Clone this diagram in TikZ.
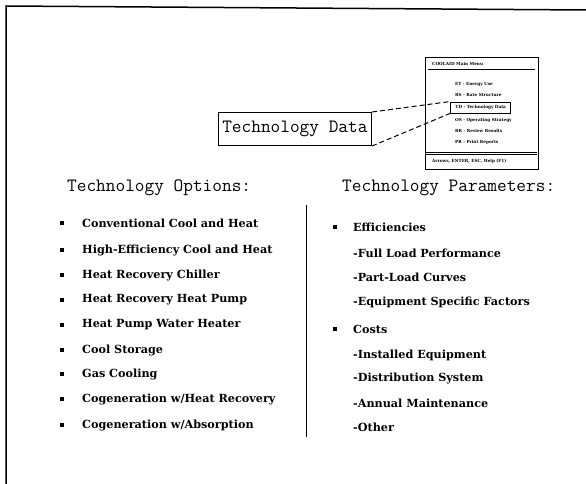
\documentclass[tikz,border=0pt]{standalone}
\usepackage{fontspec}
\newfontfamily\itemfont{DejaVu Serif}
\begin{document}
\begin{tikzpicture}[x=1pt,y=-1pt,
  frame/.style={line width=1.5pt},
  head/.style={font=\fontsize{18.8}{20}\selectfont\ttfamily, anchor=base west, inner sep=0},
  item/.style={font=\itemfont\bfseries\fontsize{11.2}{12}\selectfont, anchor=west, inner sep=0},
  bul/.style={fill, minimum size=4.8pt, inner sep=0},
  menutxt/.style={font=\itemfont\bfseries\fontsize{4.2}{5}\selectfont, anchor=west, inner sep=0},
  conn/.style={line width=1pt, dash pattern=on 5pt off 3pt}]
\useasboundingbox (0,0) rectangle (586,484);
% outer frame
\draw[frame] (6,484) -- (6,6) -- (586,10);
% menu box
\node[draw, line width=1.4pt, minimum width=113pt, minimum height=112pt, anchor=north west, inner sep=0] (menu) at (425,57) {};
\node[menutxt] (mtitle) at (432,64) {COOLAID Main Menu};
\draw[line width=1pt] (428,69.5) -- (535,69.5);
\node[menutxt] (m1) at (455,84) {ET - Energy Use};
\node[menutxt] (m2) at (455,95) {RS - Rate Structure};
\node[menutxt, draw, line width=0.9pt, inner xsep=5pt, minimum height=11pt] (td) at (450,107.5) {TD - Technology Data};
\node[menutxt] (m4) at (455,120) {OS - Operating Strategy};
\node[menutxt] (m5) at (455,131) {RR - Review Results};
\node[menutxt] (m6) at (455,142) {PR - Print Reports};
\draw[line width=0.8pt] (426,152) -- (537,152);
\draw[line width=0.6pt] (426,154.5) -- (537,154.5);
\node[menutxt] (mfoot) at (432,161) {Arrows, ENTER, ESC, Help (F1)};
% title box
\node[draw, line width=1pt, anchor=south east, minimum height=33pt, inner xsep=4pt,
      font=\fontsize{18.8}{20}\selectfont\ttfamily] (tbox) at (372,146) {Technology Data};
\draw[conn] (tbox.north east) -- (td.north west);
\draw[conn] (tbox.south east) -- (td.south west);
% headings
\node[head] (hopt) at (67,191) {Technology Options:};
\node[head] (hpar) at (342,191) {Technology Parameters:};
% divider
\draw[line width=1pt] (306,205) -- (306,437);
% left list
\foreach \y/\t [count=\i] in {223/{Conventional Cool and Heat},
  250/{High-Efficiency Cool and Heat},
  275/{Heat Recovery Chiller},
  300/{Heat Recovery Heat Pump},
  325/{Heat Pump Water Heater},
  350/{Cool Storage},
  374/{Gas Cooling},
  399/{Cogeneration w/Heat Recovery},
  425/{Cogeneration w/Absorption}}{
  \node[bul] (lb\i) at (62,\y) {};
  \node[item] (lt\i) at (82,\y) {\t};
}
% right list
\node[bul] (rb1) at (335,227) {};
\node[item] (r1) at (353,227) {Efficiencies};
\node[item] (r2) at (353,253) {-Full Load Performance};
\node[item] (r3) at (353,277) {-Part-Load Curves};
\node[item] (r4) at (353,302) {-Equipment Specific Factors};
\node[bul] (rb2) at (335,329) {};
\node[item] (r5) at (353,329) {Costs};
\node[item] (r6) at (353,355) {-Installed Equipment};
\node[item] (r7) at (353,378) {-Distribution System};
\node[item] (r8) at (353,403) {-Annual Maintenance};
\node[item] (r9) at (353,427) {-Other};
\end{tikzpicture}
\end{document}
